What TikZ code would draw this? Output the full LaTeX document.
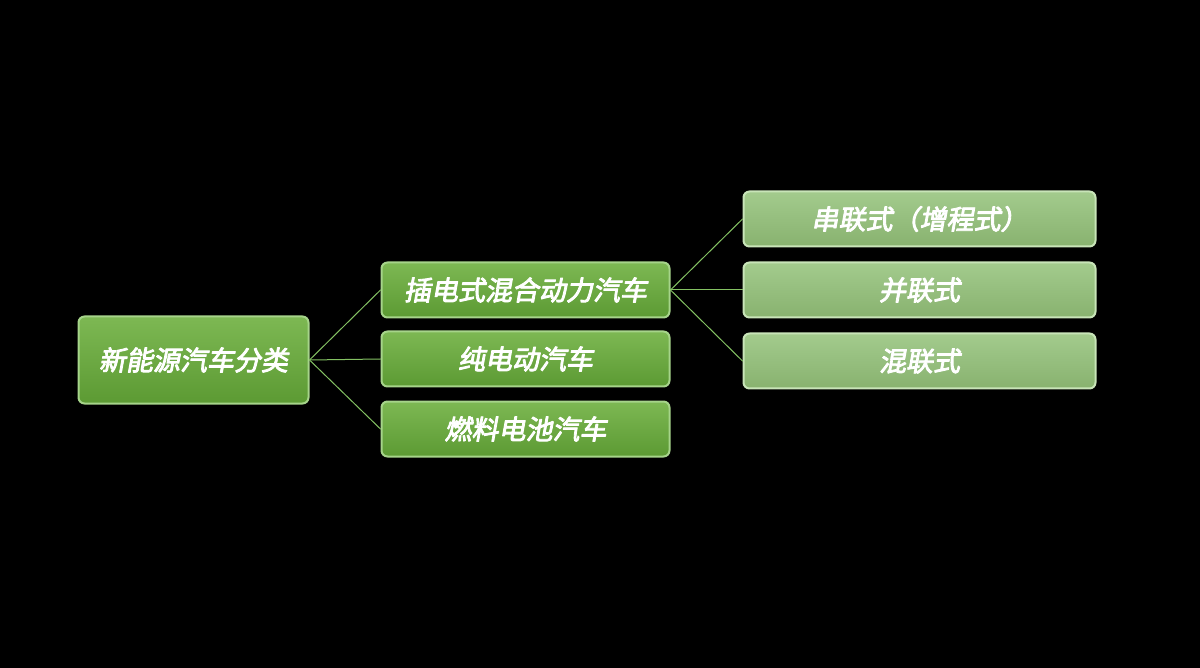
\documentclass[tikz,border=0pt]{standalone}
\usepackage{fontspec}
\newfontfamily\cjk[FakeSlant=0.18,FakeBold=3.2]{Noto Sans CJK SC}
\usepackage{xcolor}
\definecolor{nvtop}{HTML}{7DB853}
\definecolor{nvbot}{HTML}{5C9A33}
\definecolor{nvedge}{HTML}{A6D48A}
\definecolor{subtop}{HTML}{A3CB8D}
\definecolor{subbot}{HTML}{88B26F}
\definecolor{subedge}{HTML}{C8E4B8}
\definecolor{linkgreen}{HTML}{84C163}
\usepackage{tikz}
\usetikzlibrary{positioning}
\tikzset{
  every picture/.style={line cap=round, line join=round},
  boxtxt/.style={font=\cjk\fontsize{27}{30}\selectfont, text=white},
  mainbox/.style={boxtxt, rounded corners=6pt, line width=2pt, draw=nvedge,
    top color=nvtop, bottom color=nvbot, inner sep=0pt},
  subbox/.style={boxtxt, rounded corners=6pt, line width=2pt, draw=subedge,
    top color=subtop, bottom color=subbot, inner sep=0pt},
  link/.style={linkgreen, line width=1pt},
}
\begin{document}
\begin{tikzpicture}[x=1pt, y=-1pt]
\fill[black] (0,0) rectangle (1200,668);
\useasboundingbox (0,0) rectangle (1200,668);
% root
\node[mainbox, minimum width=230, minimum height=87] (root) at (193.5,360) {新能源汽车分类};
% second level
\node[mainbox, minimum width=288, minimum height=55] (phev) at (525.5,290) {插电式混合动力汽车};
\node[mainbox, minimum width=288, minimum height=55] (bev) at (525.5,359) {纯电动汽车};
\node[mainbox, minimum width=288, minimum height=55] (fcev) at (525.5,429) {燃料电池汽车};
% third level
\node[subbox, minimum width=352, minimum height=55] (series) at (919.5,219) {串联式（增程式）};
\node[subbox, minimum width=352, minimum height=55] (parallel) at (919.5,290) {并联式};
\node[subbox, minimum width=352, minimum height=55] (mixed) at (919.5,361) {混联式};
% connectors
\foreach \n in {phev,bev,fcev} \draw[link] (root.east) -- (\n.west);
\foreach \n in {series,parallel,mixed} \draw[link] (phev.east) -- (\n.west);
\end{tikzpicture}
\end{document}
